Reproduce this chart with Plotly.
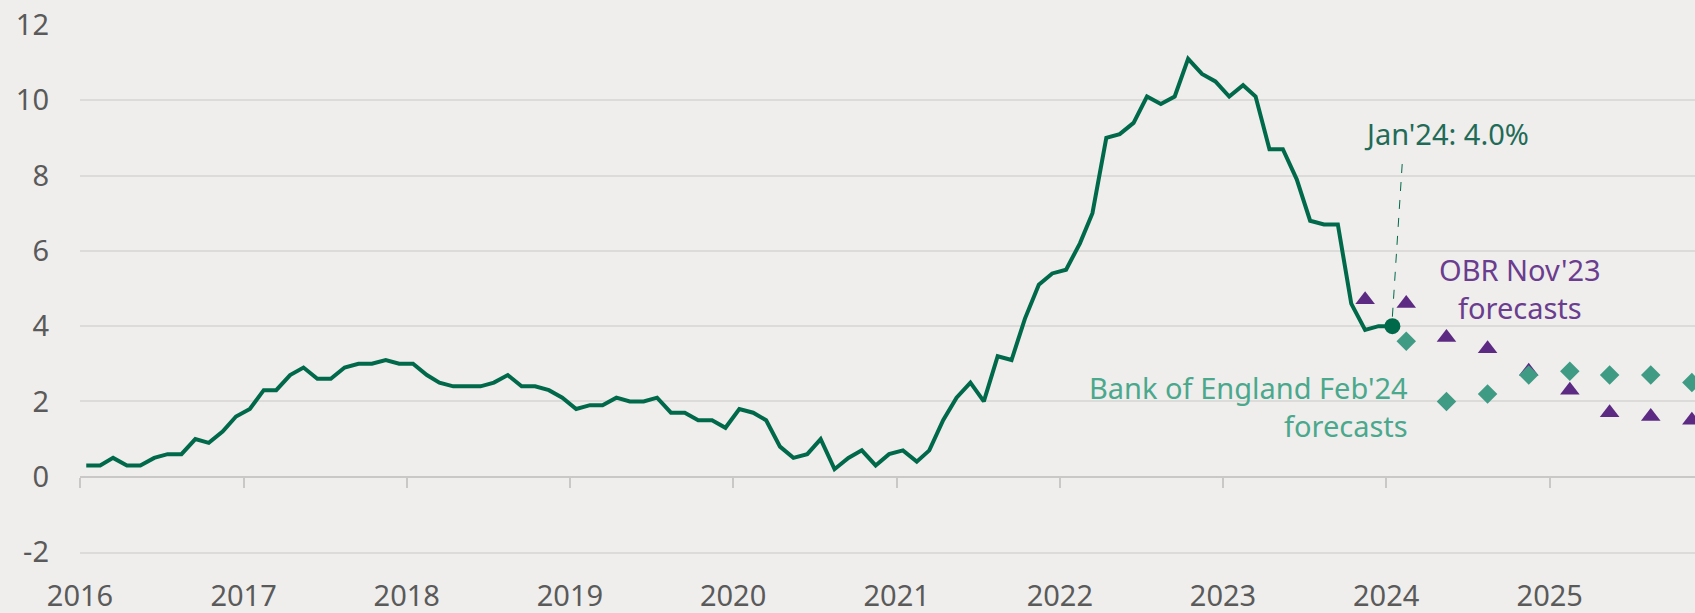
import pandas as pd
import plotly.graph_objects as go

# UK CPI inflation, monthly, Jan 2016 - Jan 2024 (%)
cpi = [
    0.3, 0.3, 0.5, 0.3, 0.3, 0.5, 0.6, 0.6, 1.0, 0.9, 1.2, 1.6,
    1.8, 2.3, 2.3, 2.7, 2.9, 2.6, 2.6, 2.9, 3.0, 3.0, 3.1, 3.0,
    3.0, 2.7, 2.5, 2.4, 2.4, 2.4, 2.5, 2.7, 2.4, 2.4, 2.3, 2.1,
    1.8, 1.9, 1.9, 2.1, 2.0, 2.0, 2.1, 1.7, 1.7, 1.5, 1.5, 1.3,
    1.8, 1.7, 1.5, 0.8, 0.5, 0.6, 1.0, 0.2, 0.5, 0.7, 0.3, 0.6,
    0.7, 0.4, 0.7, 1.5, 2.1, 2.5, 2.0, 3.2, 3.1, 4.2, 5.1, 5.4,
    5.5, 6.2, 7.0, 9.0, 9.1, 9.4, 10.1, 9.9, 10.1, 11.1, 10.7, 10.5,
    10.1, 10.4, 10.1, 8.7, 8.7, 7.9, 6.8, 6.7, 6.7, 4.6, 3.9, 4.0,
    4.0,
]
months = pd.date_range("2016-01-01", periods=len(cpi), freq="MS") + pd.Timedelta(days=14)

# quarterly forecasts, plotted at the middle month of each quarter
obr_dates = ["2023-11-15", "2024-02-15", "2024-05-15", "2024-08-15", "2024-11-15",
             "2025-02-15", "2025-05-15", "2025-08-15", "2025-11-15"]
obr_nov23 = [4.7, 4.6, 3.7, 3.4, 2.8, 2.3, 1.7, 1.6, 1.5]

boe_dates = ["2024-02-15", "2024-05-15", "2024-08-15", "2024-11-15",
             "2025-02-15", "2025-05-15", "2025-08-15", "2025-11-15"]
boe_feb24 = [3.6, 2.0, 2.2, 2.7, 2.8, 2.7, 2.7, 2.5]

year_ticks = [f"{y}-01-01" for y in range(2016, 2026)]
year_labels = [str(y) for y in range(2016, 2026)]
y_ticks = [-2, 0, 2, 4, 6, 8, 10, 12]
y_labels = ["-2", "0", "2", "4", "6", "8", "10", "12"]

x_range = ["2016-01-01", "2025-11-22"]
y_range = [-2, 12]

GREEN = "#00694a"
TEAL = "#3f9b84"
PURPLE = "#5c2a82"
GREY_TXT = "#5a5a5a"
GRID = "#dcdbd9"
FONT = "Noto Sans"

fig = go.Figure()

fig.add_trace(go.Scatter(
    x=months, y=cpi, mode="lines",
    line=dict(color=GREEN, width=4),
    name="CPI"
))
fig.add_trace(go.Scatter(
    x=obr_dates, y=obr_nov23, mode="markers",
    marker=dict(symbol="triangle-up", size=17, color=PURPLE),
    name="OBR Nov'23"
))
fig.add_trace(go.Scatter(
    x=boe_dates, y=boe_feb24, mode="markers",
    marker=dict(symbol="diamond", size=15, color=TEAL),
    name="Bank of England Feb'24"
))
# latest outturn, drawn on the overlay axis that carries the zero line
fig.add_trace(go.Scatter(
    x=[months[-1]], y=[cpi[-1]], mode="markers",
    marker=dict(size=16, color=GREEN),
    xaxis="x2", yaxis="y",
    name="Jan'24"
))

# dashed leader from the label down to the Jan'24 point
fig.add_shape(
    type="line", xref="x", yref="y",
    x0=months[-1], y0=cpi[-1] + 0.25, x1="2024-02-07", y1=8.5,
    line=dict(color=GREEN, width=1, dash="dash")
)

fig.add_annotation(
    x="2024-05-16", y=9.13, text="Jan'24: 4.0%", showarrow=False,
    font=dict(family=FONT, size=29, color="#1f6b58")
)
fig.add_annotation(
    x="2024-10-27", y=5.01, text="OBR Nov'23<br>forecasts", showarrow=False,
    align="center", font=dict(family=FONT, size=29, color="#6a3d8f")
)
fig.add_annotation(
    x="2024-02-24", y=1.86, xanchor="right", text="Bank of England Feb'24<br>forecasts",
    showarrow=False, align="right", font=dict(family=FONT, size=29, color="#4aa88c")
)

fig.update_layout(
    width=1695, height=613,
    margin=dict(l=80, r=0, t=25, b=61),
    paper_bgcolor="#efeeec",
    plot_bgcolor="#efeeec",
    showlegend=False,
    font=dict(family=FONT, size=29, color=GREY_TXT),
    xaxis=dict(
        type="date", range=x_range, automargin=False,
        tickvals=year_ticks, ticktext=year_labels,
        showgrid=False, zeroline=False,
        showline=True, linecolor=GRID, linewidth=1.5,
        ticks="", ticklabelstandoff=17,
        tickfont=dict(size=29, color=GREY_TXT),
    ),
    xaxis2=dict(
        type="date", range=x_range, overlaying="x", matches="x",
        anchor="free", position=(0 - y_range[0]) / (y_range[1] - y_range[0]),
        tickvals=year_ticks, showticklabels=False, automargin=False,
        showgrid=False, zeroline=False,
        showline=True, linecolor="#c9c8c6", linewidth=2,
        ticks="outside", ticklen=10, tickwidth=2, tickcolor="#c9c8c6",
    ),
    yaxis=dict(
        range=y_range, tickvals=y_ticks, ticktext=y_labels, automargin=False,
        showgrid=True, gridcolor=GRID, gridwidth=1.5,
        zeroline=False, showline=False,
        ticks="", ticklabelstandoff=30,
        tickfont=dict(size=29, color=GREY_TXT),
    ),
)

fig.write_html("out.html", config={"displayModeBar": False},
               post_script="document.body.style.margin = '0';")
